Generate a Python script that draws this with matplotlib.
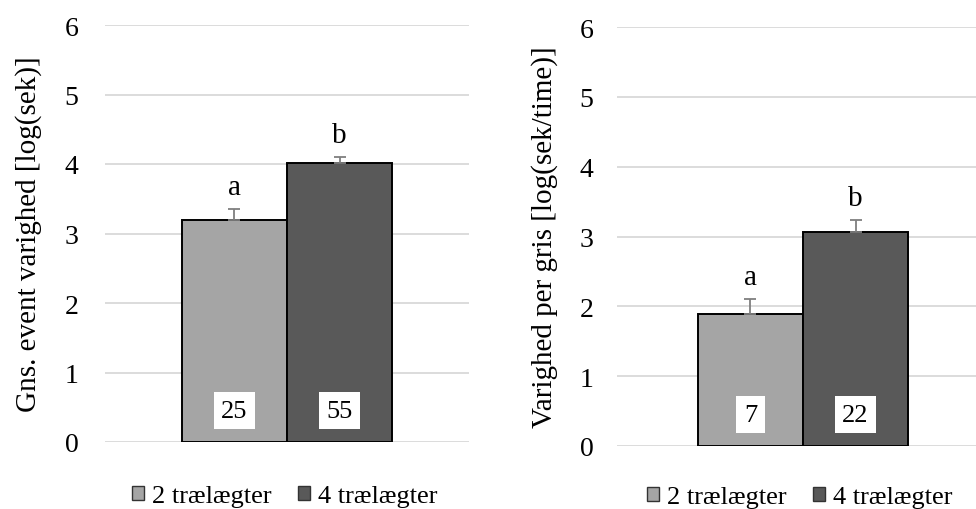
import matplotlib
matplotlib.use("Agg")
import matplotlib.pyplot as plt
from matplotlib.patches import Patch

plt.rcParams["font.family"] = ["Liberation Serif", "DejaVu Serif"]

groups = ["2 trælægter", "4 trælægter"]
colors = ["#a5a5a5", "#595959"]

event_means = [3.19, 4.01]
event_err = [0.16, 0.09]
event_n = [25, 55]
event_letters = ["a", "b"]

pig_means = [1.89, 3.07]
pig_err = [0.21, 0.17]
pig_n = [7, 22]
pig_letters = ["a", "b"]

W, H = 976, 510
fig = plt.figure(figsize=(W / 100, H / 100), dpi=100)


def panel(rect, means, errs, ns, letters, ylabel, half_width, label_x, tick_pad, legend_x):
    ax = fig.add_axes(rect)
    xs = [-0.5, 0.5]
    ax.bar(xs, means, width=1.0, color=colors, edgecolor="black", linewidth=1.4, zorder=3)
    ax.errorbar(xs, means, yerr=[[0, 0], errs], fmt="none", ecolor="#7f7f7f",
                elinewidth=1.3, capsize=4, capthick=1.3, zorder=4)
    for x, m, e, n, l in zip(xs, means, errs, ns, letters):
        ax.text(x, m + e + 0.13, l, ha="center", va="bottom", fontsize=21, zorder=5)
        ax.text(x, 0.45, str(n), ha="center", va="center", fontsize=19, zorder=5,
                bbox=dict(facecolor="white", edgecolor="none", pad=5.5))
    ax.set_ylim(0, 6)
    ax.set_xlim(-half_width, half_width)
    ax.set_yticks(range(7))
    ax.set_xticks([])
    ax.yaxis.grid(True, color="#d9d9d9", linewidth=1.3, zorder=0)
    for s in ax.spines.values():
        s.set_visible(False)
    ax.tick_params(axis="y", length=0, labelsize=20, pad=tick_pad)
    ax.set_ylabel(ylabel, fontsize=21)
    ax.yaxis.set_label_coords(label_x, 0.5)
    handles = [Patch(facecolor=c, edgecolor="#333333", linewidth=1.0) for c in colors]
    ax.legend(handles, groups, loc="center", bbox_to_anchor=legend_x, ncol=2,
              frameon=False, fontsize=19, handlelength=0.45, handleheight=0.45,
              handletextpad=0.3, columnspacing=1.0, borderaxespad=0)
    return ax


# left panel: gridlines x 105-469, y 0 at 443, 6 at 26
panel([105 / W, 1 - 443 / H, 364 / W, 417 / H], event_means, event_err, event_n,
      event_letters, "Gns. event varighed [log(sek)]", 1.733, -0.173, 19, (0.493, -0.13))

# right panel: gridlines from x 617, y 0 at 447, 6 at 28
panel([617 / W, 1 - 447 / H, 372 / W, 419 / H], pig_means, pig_err, pig_n,
      pig_letters, "Varighed per gris [log(sek/time)]", 1.77, -0.159, 17, (0.492, -0.122))

fig.savefig("out.png", dpi=100)
